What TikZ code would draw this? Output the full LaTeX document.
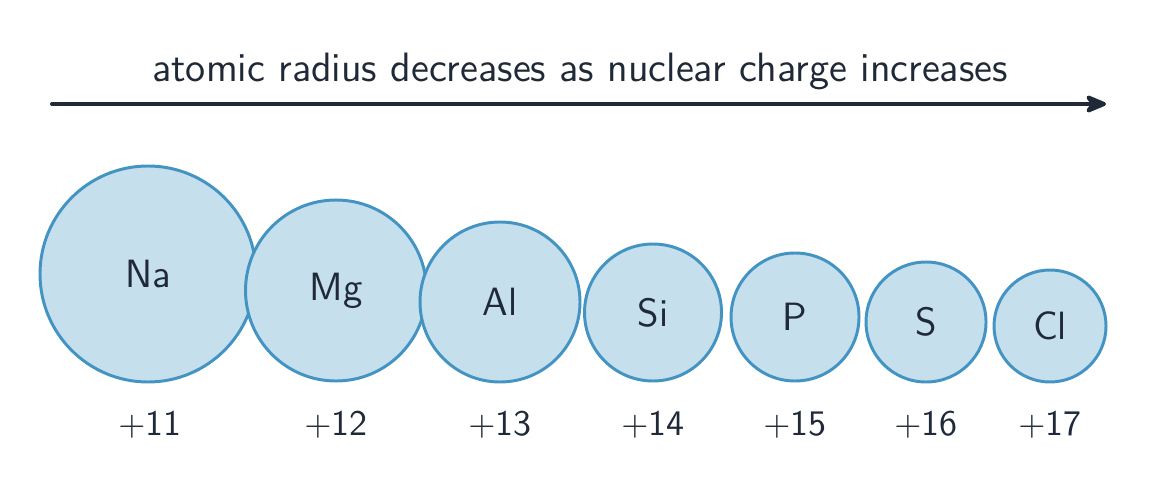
\documentclass[tikz,border=0pt]{standalone}
\usetikzlibrary{arrows.meta}
\definecolor{ink}{HTML}{1F2937}
\definecolor{atomfill}{HTML}{C6DFEC}
\definecolor{atomline}{HTML}{4393C3}
\begin{document}
\begin{tikzpicture}[x=0.2865pt,y=-0.2865pt,
  font=\sffamily\fontsize{10.3}{12}\selectfont,
  atom/.style={circle,draw=atomline,fill=atomfill,line width=0.85pt,inner sep=0pt,text=ink,font=\sffamily\fontsize{11.3}{13}\selectfont},
  charge/.style={anchor=base,text=ink},
  trend/.style={draw=ink,line width=1.15pt,line cap=round,-{Stealth[length=7.5pt,width=6.2pt,inset=2.2pt,round]}}]
\useasboundingbox (0,0) rectangle (1152,492);
\node[anchor=base,text=ink,font=\sffamily\fontsize{11.75}{14}\selectfont] (title) at (580,82) {atomic radius decreases as nuclear charge increases};
\coordinate (arrS) at (52,104);
\coordinate (arrE) at (1106,104);
\draw[trend] (arrS) -- (arrE);
\node[atom,minimum size=216*0.2865pt] (Na) at (148,274) {Na};
\node[atom,minimum size=181*0.2865pt] (Mg) at (336,290.5) {Mg};
\node[atom,minimum size=160*0.2865pt] (Al) at (500,302) {Al};
\node[atom,minimum size=137*0.2865pt] (Si) at (653,312.5) {Si};
\node[atom,minimum size=128*0.2865pt] (P) at (795,317) {P};
\node[atom,minimum size=120*0.2865pt] (S) at (926,322) {S};
\node[atom,minimum size=112*0.2865pt] (Cl) at (1050,326) {Cl};
\node[charge] (q11) at (150,435) {$+$11};
\node[charge] (q12) at (336,435) {$+$12};
\node[charge] (q13) at (500,435) {$+$13};
\node[charge] (q14) at (653,435) {$+$14};
\node[charge] (q15) at (795,435) {$+$15};
\node[charge] (q16) at (926,435) {$+$16};
\node[charge] (q17) at (1050,435) {$+$17};
\end{tikzpicture}
\end{document}
